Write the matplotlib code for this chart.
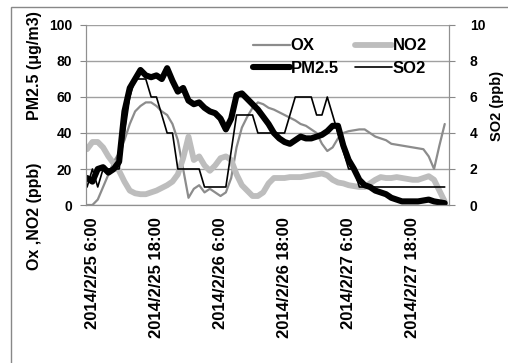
import matplotlib
matplotlib.use("Agg")
import matplotlib.pyplot as plt
from matplotlib.patches import Rectangle

plt.rcParams['font.family'] = ['Liberation Sans', 'DejaVu Sans']
plt.rcParams['font.weight'] = 'bold'

# hourly data, hour counted from 2014/2/25 0:00
hours = list(range(5, 73))

pm25 = [15, 13, 20, 21, 18, 20, 24, 52, 65, 70,
        75, 72, 71, 72, 70, 76, 69, 63, 65, 58,
        56, 57, 54, 52, 51, 48, 42, 48, 61, 62,
        59, 56, 53, 49, 45, 40, 37, 35, 34, 36,
        38, 37, 37, 38, 39, 41, 44, 44, 33, 25,
        20, 14, 11, 10, 8, 7, 6, 4, 3, 2,
        2, 2, 2, 2.5, 3, 2, 1.5, 1]

ox = [0, 0, 3, 10, 17, 24, 29, 36, 45, 52,
      55, 57, 57, 55, 52, 50, 45, 36, 20, 4,
      9, 11, 7, 9, 7, 5, 7, 15, 32, 43,
      49, 54, 57, 56, 54, 53, 51.5, 50, 48.5, 47,
      45, 44, 42, 40, 34, 30, 32, 37, 40, 41,
      41.5, 42, 42, 40, 38, 37, 36, 34, 33.5, 33,
      32.5, 32, 31.5, 31, 27, 20, 33, 45]

no2 = [31, 35, 35, 32, 27, 23, 19, 13, 8, 6.5,
       6, 6, 7, 8, 9.5, 11, 13, 17, 26, 38,
       25, 27, 22, 19, 22, 26, 27, 25, 17, 11,
       8, 5, 5, 7, 12, 15, 15, 15, 15.5, 15.5,
       15.5, 16, 16.5, 17, 17.5, 16.5, 14, 12.5, 12, 11,
       10.5, 10, 10, 12, 14, 15.5, 15, 15, 15.5, 15,
       14.5, 14, 14, 15, 16, 14, 8, 2]

so2 = [1, 2, 1, 2, 2, 2, 2, 4, 6, 7,
       7, 7, 6, 6, 5, 4, 4, 2, 2, 2,
       2, 2, 1, 1, 1, 1, 1, 3, 5, 5,
       5, 5, 4, 4, 4, 4, 4, 4, 5, 6,
       6, 6, 6, 5, 5, 6, 5, 4, 3, 2,
       2, 1, 1, 1, 1, 1, 1, 1, 1, 1,
       1, 1, 1, 1, 1, 1, 1, 1]

tick_hours = [6, 18, 30, 42, 54, 66]
tick_labels = ['2014/2/25 6:00', '2014/2/25 18:00', '2014/2/26 6:00',
               '2014/2/26 18:00', '2014/2/27 6:00', '2014/2/27 18:00']

W, H = 508, 363
fig = plt.figure(figsize=(W / 100, H / 100), dpi=100)
ax = fig.add_axes([86 / W, 1 - 205 / H, (449 - 86) / W, 180 / H])

line_kw = dict(solid_joinstyle='round', solid_capstyle='round')
l_ox, = ax.plot(hours, ox, color='#8c8c8c', lw=1.6, label='OX', **line_kw)
l_no2, = ax.plot(hours, no2, color='#bdbdbd', lw=4.2, label='NO2', **line_kw)
l_pm, = ax.plot(hours, pm25, color='black', lw=4.4, label='PM2.5', **line_kw)

ax2 = ax.twinx()
l_so2, = ax2.plot(hours, so2, color='black', lw=1.2, label='SO2', **line_kw)

ax.set_xlim(4.8, 72.8)
ax.set_ylim(0, 100)
ax.set_yticks(range(0, 101, 20))
ax2.set_ylim(0, 10)
ax2.set_yticks(range(0, 11, 2))

ax.grid(axis='y', color='#a0a0a0', lw=1)
ax.set_axisbelow(True)

ax.set_xticks(tick_hours)
ax.set_xticklabels(tick_labels, rotation=90, fontsize=12, fontweight='bold')
ax.tick_params(axis='x', length=0, pad=9)
ax.tick_params(axis='y', length=4, color='#888888', labelsize=10, pad=6)
ax2.tick_params(axis='y', length=4, color='#888888', labelsize=10, pad=11)

for a in (ax, ax2):
    a.spines['top'].set_visible(False)
    for side in ('left', 'right', 'bottom'):
        a.spines[side].set_color('#909090')

ax.legend([l_ox, l_pm, l_no2, l_so2], ['OX', 'PM2.5', 'NO2', 'SO2'],
          ncol=2, loc='upper left', bbox_to_anchor=(0.46, 0.925),
          frameon=False, fontsize=12, handlelength=2.2, handletextpad=0.05,
          columnspacing=1.0, labelspacing=0.45, borderpad=0, borderaxespad=0)

fig.text(35 / W, 1 - 66 / H, 'PM2.5 (μg/m3)', rotation=90, ha='center',
         va='center', fontsize=11.5, fontweight='bold')
fig.text(35 / W, 1 - 216 / H, 'Ox ,NO2 (ppb)', rotation=90, ha='center',
         va='center', fontsize=11.5, fontweight='bold')
fig.text(497 / W, 1 - 106 / H, 'SO2 (ppb)', rotation=90, ha='center',
         va='center', fontsize=10.5, fontweight='bold')

fig.patches.append(Rectangle((11 / W, -0.1), 1.0, 1 - 7 / H + 0.1,
                             transform=fig.transFigure, fill=False,
                             ec='#888888', lw=1))

fig.savefig('out.png', dpi=100)
